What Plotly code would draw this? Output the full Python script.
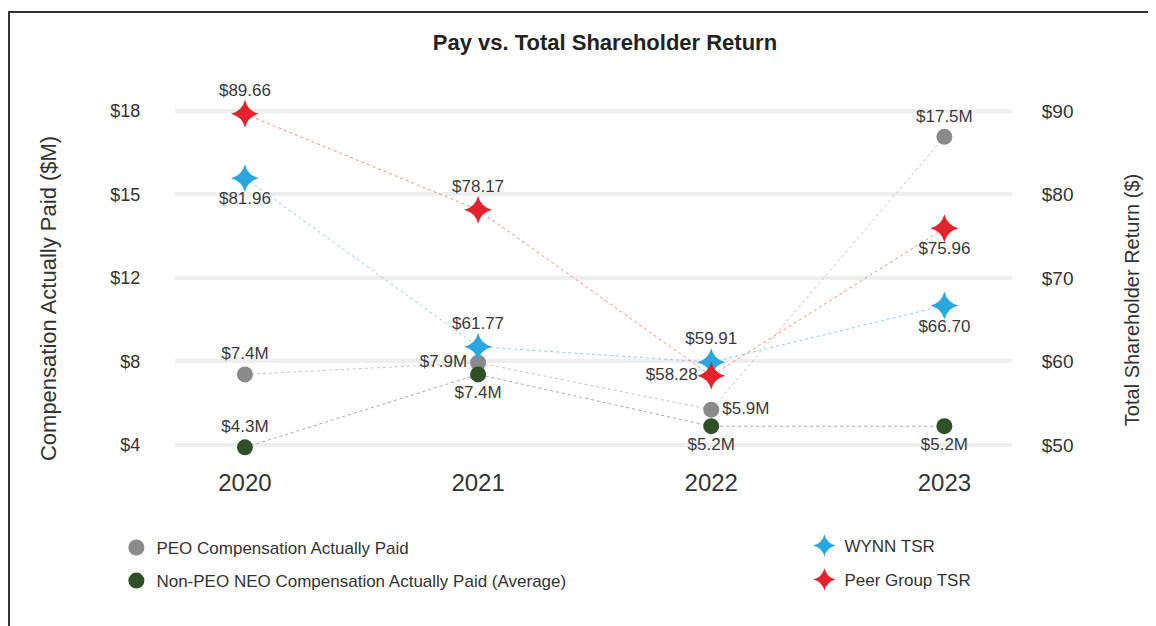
import plotly.graph_objects as go

years = ['2020', '2021', '2022', '2023']

peo_cap = [7.4, 7.9, 5.9, 17.5]
peo_labels = ['$7.4M', '$7.9M', '$5.9M', '$17.5M']

non_peo_cap = [4.3, 7.4, 5.2, 5.2]
non_peo_labels = ['$4.3M', '$7.4M', '$5.2M', '$5.2M']

wynn_tsr = [81.96, 61.77, 59.91, 66.70]
peer_tsr = [89.66, 78.17, 58.28, 75.96]

# the left axis labels in the source are rounded, gridlines sit ~3.55 apart
left_tickvals = [4.4, 7.95, 11.5, 15.05, 18.6]
left_ticktext = ['$4', '$8', '$12', '$15', '$18']
right_tickvals = [50, 60, 70, 80, 90]
right_ticktext = ['$50', '$60', '$70', '$80', '$90']

FONT = 'Liberation Sans, Arial, sans-serif'
LABEL_FONT = dict(family=FONT, size=17, color='#3a3a3a')

fig = go.Figure()

# connecting lines first so markers sit on top
fig.add_trace(go.Scatter(x=years, y=peo_cap, mode='lines', showlegend=False, hoverinfo='skip',
                         line=dict(color='#c4c4c4', width=1, dash='dot')))
fig.add_trace(go.Scatter(x=years, y=non_peo_cap, mode='lines', showlegend=False, hoverinfo='skip',
                         line=dict(color='#a8a8a8', width=1, dash='dot')))
fig.add_trace(go.Scatter(x=years, y=wynn_tsr, mode='lines', showlegend=False, hoverinfo='skip',
                         yaxis='y2', line=dict(color='#8fcbee', width=1, dash='dot')))
fig.add_trace(go.Scatter(x=years, y=peer_tsr, mode='lines', showlegend=False, hoverinfo='skip',
                         yaxis='y2', line=dict(color='#f2916f', width=1, dash='dot')))

fig.add_trace(go.Scatter(
    x=years, y=peo_cap, name='PEO Compensation Actually Paid',
    mode='markers+text', text=peo_labels, cliponaxis=False,
    textposition=['top center', 'middle left', 'middle right', 'top center'],
    textfont=LABEL_FONT,
    marker=dict(symbol='circle', size=16, color='#8a8a8a'),
    legend='legend',
))
fig.add_trace(go.Scatter(
    x=years, y=non_peo_cap, name='Non-PEO NEO Compensation Actually Paid (Average)',
    mode='markers+text', text=non_peo_labels, cliponaxis=False,
    textposition=['top center', 'bottom center', 'bottom center', 'bottom center'],
    textfont=LABEL_FONT,
    marker=dict(symbol='circle', size=16, color='#2f4f27'),
    legend='legend2',
))
fig.add_trace(go.Scatter(
    x=years, y=wynn_tsr, name='WYNN TSR', yaxis='y2',
    mode='markers+text', text=['$%.2f' % v for v in wynn_tsr], cliponaxis=False,
    textposition=['bottom center', 'top center', 'top center', 'bottom center'],
    textfont=LABEL_FONT,
    marker=dict(symbol='star-diamond', size=20, color='#2ba7df'),
    legend='legend3',
))
fig.add_trace(go.Scatter(
    x=years, y=peer_tsr, name='Peer Group TSR', yaxis='y2',
    mode='markers+text', text=['$%.2f' % v for v in peer_tsr], cliponaxis=False,
    textposition=['top center', 'top center', 'middle left', 'bottom center'],
    textfont=LABEL_FONT,
    marker=dict(symbol='star-diamond', size=20, color='#e3222c'),
    legend='legend4',
))

legend_font = dict(family=FONT, size=17, color='#333333')


def legend_at(x, y):
    return dict(x=x, y=y, xanchor='left', yanchor='middle', xref='paper', yref='paper',
                font=legend_font, bgcolor='rgba(0,0,0,0)')


fig.update_layout(
    width=1148, height=618,
    margin=dict(l=167, r=144, t=87, b=166),
    paper_bgcolor='white', plot_bgcolor='white',
    showlegend=True,
    font=dict(family=FONT, color='#333333'),
    title=dict(text='<b>Pay vs. Total Shareholder Return</b>', x=0.52, xanchor='center',
               y=0.944, yanchor='middle', font=dict(family=FONT, size=22, color='#222222')),
    xaxis=dict(type='category', range=[-0.3, 3.29], showgrid=False, zeroline=False,
               showline=False, ticks='outside', ticklen=1, tickcolor='rgba(0,0,0,0)',
               tickfont=dict(size=24, color='#333333')),
    yaxis=dict(range=[3.762, 19.28], tickvals=left_tickvals, ticktext=left_ticktext,
               showgrid=True, gridcolor='#eceeef', gridwidth=4, zeroline=False,
               showline=False, ticks='outside', ticklen=30, tickcolor='rgba(0,0,0,0)',
               tickfont=dict(size=18, color='#333333')),
    yaxis2=dict(range=[48.20, 91.92], tickvals=right_tickvals, ticktext=right_ticktext,
                overlaying='y', side='right', showgrid=False, zeroline=False,
                showline=False, ticks='outside', ticklen=25, tickcolor='rgba(0,0,0,0)',
                tickfont=dict(size=19, color='#333333')),
    legend=legend_at(-0.070, -0.241),
    legend2=legend_at(-0.070, -0.3315),
    legend3=legend_at(0.752, -0.2356),
    legend4=legend_at(0.752, -0.3288),
    annotations=[
        dict(text='Compensation Actually Paid ($M)', textangle=-90, x=-0.1517, y=0.441,
             xref='paper', yref='paper', xanchor='center', yanchor='middle', showarrow=False,
             font=dict(family=FONT, size=22, color='#333333')),
        dict(text='Total Shareholder Return ($)', textangle=-90, x=1.1434, y=0.438,
             xref='paper', yref='paper', xanchor='center', yanchor='middle', showarrow=False,
             font=dict(family=FONT, size=20, color='#333333')),
    ],
    shapes=[dict(type='rect', xref='paper', yref='paper', x0=-0.1983, x1=1.1768,
                 y0=-0.4658, y1=1.2274, line=dict(color='#333333', width=2))],
)

fig.write_html('out.html')
